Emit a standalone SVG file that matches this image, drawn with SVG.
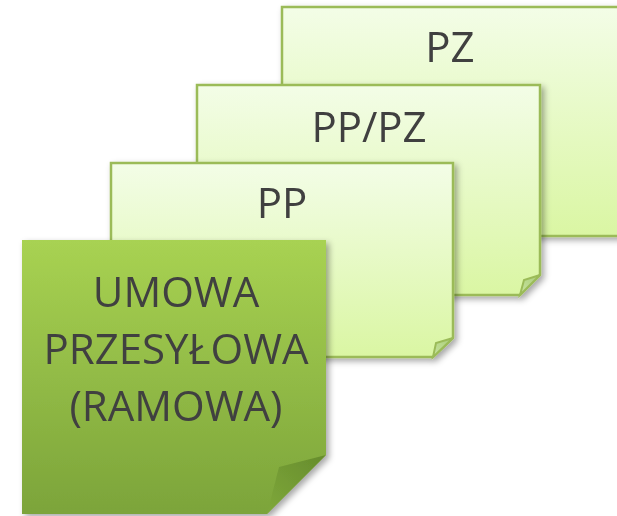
<svg xmlns="http://www.w3.org/2000/svg" width="617" height="516" viewBox="0 0 617 516">
<defs>
<linearGradient id="light" x1="0" y1="0" x2="0" y2="1">
<stop offset="0" stop-color="#F3FDE7"/>
<stop offset="1" stop-color="#DAF6A3"/>
</linearGradient>
<linearGradient id="dark" x1="0" y1="0" x2="0" y2="1">
<stop offset="0" stop-color="#A8D252"/>
<stop offset="1" stop-color="#7CA43A"/>
</linearGradient>
<linearGradient id="flapL" x1="0" y1="1" x2="1" y2="0">
<stop offset="0" stop-color="#C9E5A0"/>
<stop offset="1" stop-color="#A9CC78"/>
</linearGradient>
<linearGradient id="flapD" x1="0" y1="1" x2="1" y2="0">
<stop offset="0" stop-color="#7FA83B"/>
<stop offset="1" stop-color="#668C2C"/>
</linearGradient>
<filter id="sh" x="-10%" y="-10%" width="125%" height="125%">
<feDropShadow dx="3" dy="3" stdDeviation="3" flood-color="#000" flood-opacity="0.35"/>
</filter>
</defs>
<style>
.box{fill:url(#light);stroke:#9BBB59;stroke-width:2.5}
.flap{fill:url(#flapL);stroke:#9BBB59;stroke-width:2}
.lbl{font-family:"Open Sans","Liberation Sans",sans-serif;font-size:42px;fill:#404040;text-anchor:middle}
</style>
<g id="node-pz" filter="url(#sh)">
<rect class="box" x="282" y="7" width="360" height="229"/>
<text class="lbl" x="450" y="62">PZ</text>
</g>
<g id="node-pppz" filter="url(#sh)">
<path class="box" d="M197,85 H540 V275 L520,295 H197 Z"/>
<path class="flap" d="M540,275 L520,295 L524,280 Z"/>
<text class="lbl" x="369" y="142">PP/PZ</text>
</g>
<g id="node-pp" filter="url(#sh)">
<path class="box" d="M111,163 H453 V338 L433,357 H111 Z"/>
<path class="flap" d="M453,338 L433,357 L436,343 Z"/>
<text class="lbl" x="282" y="218">PP</text>
</g>
<g id="node-umowa" filter="url(#sh)">
<path d="M22,240 H326 V455 L267,514 H22 Z" fill="url(#dark)"/>
<path d="M326,455 L267,514 L279,467 Z" fill="url(#flapD)"/>
<text class="lbl" x="176" y="307">UMOWA</text>
<text class="lbl" x="176" y="364">PRZESYŁOWA</text>
<text class="lbl" x="176" y="421">(RAMOWA)</text>
</g>
</svg>
